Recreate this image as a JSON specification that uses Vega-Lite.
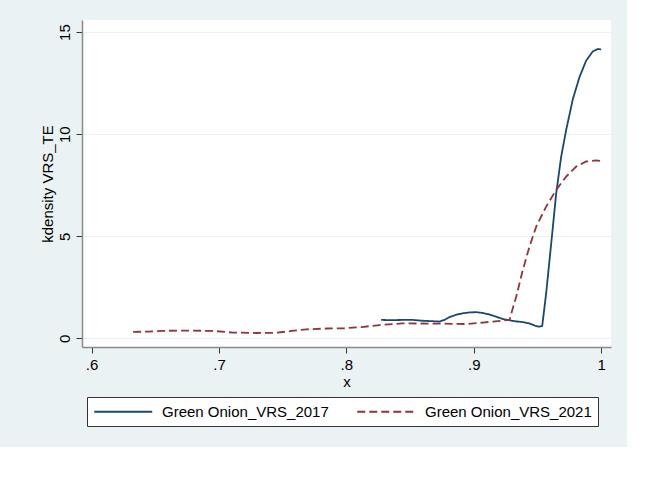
{
  "$schema": "https://vega.github.io/schema/vega-lite/v6.json",
  "autosize": {"type": "none"},
  "width": 529,
  "height": 327,
  "padding": {"left": 82, "top": 20, "right": 16, "bottom": 100},
  "background": "#EAF2F3",
  "config": {
    "view": {"fill": "white", "stroke": null},
    "font": "Liberation Sans",
    "axis": {"labelFont": "Liberation Sans", "titleFont": "Liberation Sans", "labelColor": "#000", "titleColor": "#000", "titleFontWeight": "normal"},
    "legend": {"labelFont": "Liberation Sans"}
  },
  "data": {
    "values": [
      {"series": "Green Onion_VRS_2017", "x": 0.8273, "y": 0.90},
      {"series": "Green Onion_VRS_2017", "x": 0.835, "y": 0.89},
      {"series": "Green Onion_VRS_2017", "x": 0.845, "y": 0.90},
      {"series": "Green Onion_VRS_2017", "x": 0.852, "y": 0.90},
      {"series": "Green Onion_VRS_2017", "x": 0.86, "y": 0.86},
      {"series": "Green Onion_VRS_2017", "x": 0.867, "y": 0.84},
      {"series": "Green Onion_VRS_2017", "x": 0.873, "y": 0.82},
      {"series": "Green Onion_VRS_2017", "x": 0.877, "y": 0.90},
      {"series": "Green Onion_VRS_2017", "x": 0.881, "y": 1.04},
      {"series": "Green Onion_VRS_2017", "x": 0.886, "y": 1.15},
      {"series": "Green Onion_VRS_2017", "x": 0.891, "y": 1.22},
      {"series": "Green Onion_VRS_2017", "x": 0.897, "y": 1.27},
      {"series": "Green Onion_VRS_2017", "x": 0.902, "y": 1.28},
      {"series": "Green Onion_VRS_2017", "x": 0.907, "y": 1.24},
      {"series": "Green Onion_VRS_2017", "x": 0.912, "y": 1.17},
      {"series": "Green Onion_VRS_2017", "x": 0.917, "y": 1.07},
      {"series": "Green Onion_VRS_2017", "x": 0.923, "y": 0.94},
      {"series": "Green Onion_VRS_2017", "x": 0.928, "y": 0.88},
      {"series": "Green Onion_VRS_2017", "x": 0.933, "y": 0.83},
      {"series": "Green Onion_VRS_2017", "x": 0.939, "y": 0.79},
      {"series": "Green Onion_VRS_2017", "x": 0.944, "y": 0.72},
      {"series": "Green Onion_VRS_2017", "x": 0.948, "y": 0.62},
      {"series": "Green Onion_VRS_2017", "x": 0.951, "y": 0.57},
      {"series": "Green Onion_VRS_2017", "x": 0.9537, "y": 0.60},
      {"series": "Green Onion_VRS_2017", "x": 0.9568, "y": 2.2},
      {"series": "Green Onion_VRS_2017", "x": 0.9608, "y": 4.66},
      {"series": "Green Onion_VRS_2017", "x": 0.9647, "y": 7.1},
      {"series": "Green Onion_VRS_2017", "x": 0.9686, "y": 8.9},
      {"series": "Green Onion_VRS_2017", "x": 0.9725, "y": 10.2},
      {"series": "Green Onion_VRS_2017", "x": 0.9777, "y": 11.7},
      {"series": "Green Onion_VRS_2017", "x": 0.983, "y": 12.8},
      {"series": "Green Onion_VRS_2017", "x": 0.9882, "y": 13.6},
      {"series": "Green Onion_VRS_2017", "x": 0.9934, "y": 14.05},
      {"series": "Green Onion_VRS_2017", "x": 0.9973, "y": 14.17},
      {"series": "Green Onion_VRS_2017", "x": 1.0, "y": 14.15},
      {"series": "Green Onion_VRS_2021", "x": 0.6326, "y": 0.31},
      {"series": "Green Onion_VRS_2021", "x": 0.645, "y": 0.33},
      {"series": "Green Onion_VRS_2021", "x": 0.656, "y": 0.36},
      {"series": "Green Onion_VRS_2021", "x": 0.667, "y": 0.38},
      {"series": "Green Onion_VRS_2021", "x": 0.677, "y": 0.38},
      {"series": "Green Onion_VRS_2021", "x": 0.6955, "y": 0.36},
      {"series": "Green Onion_VRS_2021", "x": 0.711, "y": 0.28},
      {"series": "Green Onion_VRS_2021", "x": 0.7295, "y": 0.26},
      {"series": "Green Onion_VRS_2021", "x": 0.745, "y": 0.27},
      {"series": "Green Onion_VRS_2021", "x": 0.757, "y": 0.36},
      {"series": "Green Onion_VRS_2021", "x": 0.7687, "y": 0.44},
      {"series": "Green Onion_VRS_2021", "x": 0.785, "y": 0.48},
      {"series": "Green Onion_VRS_2021", "x": 0.798, "y": 0.49},
      {"series": "Green Onion_VRS_2021", "x": 0.812, "y": 0.55},
      {"series": "Green Onion_VRS_2021", "x": 0.826, "y": 0.65},
      {"series": "Green Onion_VRS_2021", "x": 0.844, "y": 0.73},
      {"series": "Green Onion_VRS_2021", "x": 0.870, "y": 0.72},
      {"series": "Green Onion_VRS_2021", "x": 0.894, "y": 0.70},
      {"series": "Green Onion_VRS_2021", "x": 0.907, "y": 0.77},
      {"series": "Green Onion_VRS_2021", "x": 0.915, "y": 0.82},
      {"series": "Green Onion_VRS_2021", "x": 0.928, "y": 0.90},
      {"series": "Green Onion_VRS_2021", "x": 0.9333, "y": 2.04},
      {"series": "Green Onion_VRS_2021", "x": 0.9385, "y": 3.35},
      {"series": "Green Onion_VRS_2021", "x": 0.9437, "y": 4.49},
      {"series": "Green Onion_VRS_2021", "x": 0.949, "y": 5.47},
      {"series": "Green Onion_VRS_2021", "x": 0.9568, "y": 6.45},
      {"series": "Green Onion_VRS_2021", "x": 0.9647, "y": 7.27},
      {"series": "Green Onion_VRS_2021", "x": 0.9725, "y": 7.92},
      {"series": "Green Onion_VRS_2021", "x": 0.9804, "y": 8.41},
      {"series": "Green Onion_VRS_2021", "x": 0.9882, "y": 8.66},
      {"series": "Green Onion_VRS_2021", "x": 0.996, "y": 8.71},
      {"series": "Green Onion_VRS_2021", "x": 1.0, "y": 8.69}
    ]
  },
  "mark": {"type": "line", "strokeWidth": 1.8, "clip": true},
  "encoding": {
    "x": {
      "field": "x", "type": "quantitative",
      "scale": {"domain": [0.5925, 1.0077], "nice": false, "zero": false},
      "axis": {
        "title": "x", "titleFontSize": 15, "titlePadding": 2,
        "values": [0.6, 0.7, 0.8, 0.9, 1],
        "labelExpr": "datum.value == 1 ? '1' : replace(format(datum.value, '.1f'), '0.', '.')",
        "labelFontSize": 15, "labelPadding": 4, "tickSize": 6,
        "tickColor": "#333", "domainColor": "#8a8a8a", "domainWidth": 1.5,
        "grid": false
      }
    },
    "y": {
      "field": "y", "type": "quantitative",
      "scale": {"domain": [-0.426, 15.59], "nice": false, "zero": false},
      "axis": {
        "title": "kdensity VRS_TE", "titleFontSize": 15, "titlePadding": 2,
        "values": [0, 5, 10, 15],
        "labelAngle": 270, "labelAlign": "center", "labelBaseline": "bottom",
        "labelFontSize": 15, "labelPadding": 4, "tickSize": 6,
        "tickColor": "#333", "domainColor": "#8a8a8a", "domainWidth": 1.5,
        "grid": true, "gridColor": "#EAF2F3", "gridWidth": 1.2
      }
    },
    "color": {
      "field": "series", "type": "nominal",
      "scale": {"domain": ["Green Onion_VRS_2017", "Green Onion_VRS_2021"], "range": ["#1A476F", "#90353B"]},
      "legend": {
        "title": null, "orient": "none", "legendX": 5, "legendY": 377,
        "direction": "horizontal", "symbolType": "M-1,0H7", "symbolSize": 210,
        "symbolStrokeWidth": 1.8, "labelFontSize": 15, "labelLimit": 400,
        "labelOffset": 52, "columnPadding": 24, "padding": 6,
        "strokeColor": "#333", "fillColor": "white", "labelColor": "#000"
      }
    },
    "strokeDash": {
      "field": "series", "type": "nominal",
      "scale": {"domain": ["Green Onion_VRS_2017", "Green Onion_VRS_2021"], "range": [[1, 0], [8, 4]]},
      "legend": {
        "title": null, "orient": "none", "legendX": 5, "legendY": 377,
        "direction": "horizontal", "symbolType": "M-1,0H7", "symbolSize": 210,
        "symbolStrokeWidth": 1.8, "labelFontSize": 15, "labelLimit": 400,
        "labelOffset": 52, "columnPadding": 24, "padding": 6,
        "strokeColor": "#333", "fillColor": "white", "labelColor": "#000"
      }
    }
  }
}
